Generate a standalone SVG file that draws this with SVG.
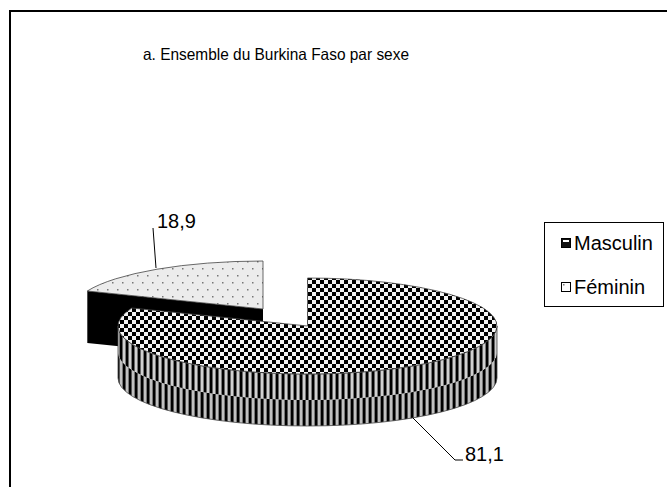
<svg xmlns="http://www.w3.org/2000/svg" width="667" height="487" viewBox="0 0 667 487">
<defs>
<pattern id="checker" patternUnits="userSpaceOnUse" width="8" height="8">
<rect width="8" height="8" fill="#f4f4f4"/>
<rect x="0" y="0" width="4" height="4" fill="#000"/>
<rect x="4" y="4" width="4" height="4" fill="#000"/>
</pattern>
<pattern id="stripesA" patternUnits="userSpaceOnUse" width="6" height="10">
<rect width="6" height="10" fill="#d0d0d0"/>
<rect x="0" width="2" height="10" fill="#000"/>
<rect x="2" width="1" height="10" fill="#666"/>
<rect x="5" width="1" height="10" fill="#777"/>
</pattern>
<pattern id="stripesB" patternUnits="userSpaceOnUse" width="6" height="10">
<rect width="6" height="10" fill="#c0c0c0"/>
<rect x="3" width="2" height="10" fill="#000"/>
<rect x="5" width="1" height="10" fill="#555"/>
<rect x="2" width="1" height="10" fill="#777"/>
</pattern>
<pattern id="dots" patternUnits="userSpaceOnUse" width="10" height="14">
<rect width="10" height="14" fill="#ececec"/>
<rect x="2" y="2" width="1.5" height="1.5" fill="#777"/>
<rect x="7" y="9" width="1.5" height="1.5" fill="#777"/>
</pattern>
<style>
.t{font-family:"Liberation Sans",Arial,sans-serif;font-size:20px;fill:#000}
.title{font-size:16.5px}
.edge{stroke:#444;stroke-width:0.8}
</style>
</defs>
<rect x="0" y="0" width="667" height="487" fill="#fff"/>
<rect x="10" y="11" width="700" height="500" fill="none" stroke="#000" stroke-width="2"/>
<text class="t title" x="143" y="60" textLength="266" lengthAdjust="spacingAndGlyphs">a. Ensemble du Burkina Faso par sexe</text>

<g id="feminin">
<path d="M263,309 L87.3,291 L87.3,343 L263,361 Z" fill="#000"/>
<path class="edge" d="M263,309 L263,261 A189.5,48 0 0 0 87.3,291 Z" fill="url(#dots)"/>
</g>

<g id="masculin">
<path d="M497,352 A189.5,48 0 0 1 118,352 L118,378 A189.5,48 0 0 0 497,378 Z" fill="url(#stripesB)"/>
<path d="M497,326 A189.5,48 0 0 1 118,326 L118,352 A189.5,48 0 0 0 497,352 Z" fill="url(#stripesA)"/>
<path class="edge" d="M497,326 A189.5,48 0 0 1 118,326 L118,378 A189.5,48 0 0 0 497,378 Z" fill="none"/>
<path class="edge" d="M307.5,326 L307.5,278 A189.5,48 0 1 1 131.8,308 Z" fill="url(#checker)"/>
</g>

<g id="connectors" fill="none" stroke="#000" stroke-width="1">
<path d="M153,228 L156,268"/>
<path d="M413,418 L455,460 L463,460"/>
</g>

<g id="labels">
<text class="t" x="157" y="228">18,9</text>
<text class="t" x="465" y="461">81,1</text>
</g>

<g id="legend">
<rect x="544.5" y="222.5" width="119" height="84" fill="#fff" stroke="#000" stroke-width="1"/>
<rect x="561.5" y="238.5" width="9" height="9" fill="#111" stroke="#000"/>
<rect x="563" y="240" width="6" height="2" fill="#fff"/>
<text class="t" x="574" y="250">Masculin</text>
<rect x="561.5" y="282.5" width="9" height="9" fill="#fff" stroke="#000"/>
<rect x="563" y="284" width="1.5" height="1.5" fill="#777"/>
<text class="t" x="574" y="294">Féminin</text>
</g>
</svg>
